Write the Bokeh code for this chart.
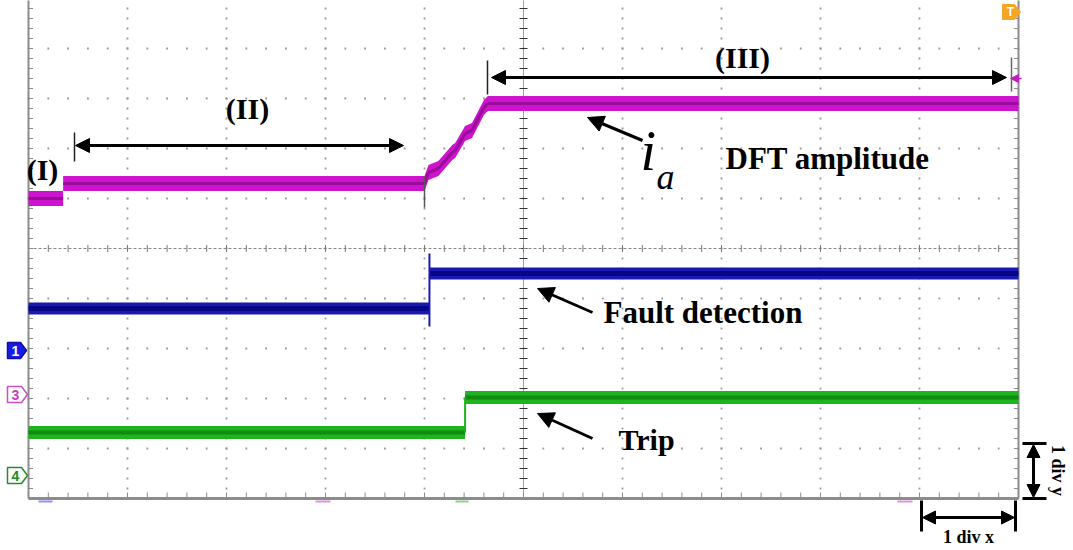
import numpy as np
from bokeh.plotting import figure
from bokeh.models import Range1d, Arrow, NormalHead
from bokeh.core.properties import value
from bokeh.embed import file_html
from bokeh.resources import INLINE

# ---------------- data (oscilloscope divisions, 0 = screen centre) ----------------
# i_a DFT amplitude (channel 3, magenta)
t_ia = [-5.0, -4.65, -4.65, -1.0, -0.96, -0.86, -0.72, -0.69, -0.59, -0.52, -0.40, -0.36, 5.0]
ia = [1.00, 1.00, 1.30, 1.30, 1.52, 1.60, 1.92, 1.96, 2.30, 2.36, 2.82, 2.90, 2.90]
ia_glitch_t = [-1.0, -1.0]
ia_glitch = [1.44, 0.82]
# Fault detection (channel 1, blue)
t_fd = [-5.0, -0.95, -0.95, 5.0]
fd = [-1.20, -1.20, -0.50, -0.50]
fd_glitch_t = [-0.95, -0.95]
fd_glitch = [-0.10, -1.56]
# Trip (channel 4, green)
t_trip = [-5.0, -0.59, -0.59, 5.0]
trip = [-3.68, -3.68, -2.98, -2.98]

region_labels = ["(I)", "(II)", "(III)"]
trace_labels = ["DFT amplitude", "Fault detection", "Trip"]
channel_labels = ["1", "3", "4"]

# ---------------- layout helpers (pixel -> division) ----------------
X0, Y0, SX, SY = 523.0, 248.0, 99.0, 50.0
W, H = 1073, 550


def dx(px):
    return (np.asarray(px, dtype=float) - X0) / SX


def dy(py):
    return (Y0 - np.asarray(py, dtype=float)) / SY


p = figure(width=W, height=H, x_range=Range1d(float(dx(0)), float(dx(W))),
           y_range=Range1d(float(dy(H)), float(dy(0))),
           output_backend="svg", toolbar_location=None, min_border=0,
           x_axis_location=None, y_axis_location=None,
           outline_line_color=None, background_fill_color="white",
           border_fill_color="white")
p.grid.visible = False

# ---------------- graticule ----------------
steps = np.round(np.arange(-5.0, 5.0001, 0.2), 3)
gl = np.array([-4, -3, -2, -1, 1, 2, 3, 4], dtype=float)
# vertical dotted grid lines
p.scatter(np.repeat(gl, len(steps)), np.tile(steps, len(gl)), marker="square",
          size=1.8, color="#989898", line_color=None)
# horizontal dotted grid lines
p.scatter(np.tile(steps, len(gl)), np.repeat(gl, len(steps)), marker="square",
          size=1.8, color="#989898", line_color=None)
# centre cross
p.line([0, 0], [-5, 5.2], line_color="#444444", line_width=1, line_dash="1 1")
p.scatter(np.zeros(len(steps)), steps, marker="dash", size=8, line_color="#333333", line_width=1)
p.line([-5, 5], [0, 0], line_color="#888888", line_width=1, line_dash="3 2")
p.scatter(steps, np.zeros(len(steps)), marker="dash", angle=np.pi / 2, size=7,
          line_color="#777777", line_width=1)
# frame edges with ticks
p.line([-5, -5], [-5, 5.2], line_color="#8c8c8c", line_width=2)
p.scatter(np.full(len(steps), -5 + 2 / SX), steps, marker="dash", size=5, line_color="#8c8c8c")
p.line([5, 5], [-5, 5.2], line_color="#8c8c8c", line_width=2)
p.scatter(np.full(len(steps), 5 - 2 / SX), steps, marker="dash", size=5, line_color="#8c8c8c")
p.line([-5, 5], [-5, -5], line_color="#8c8c8c", line_width=3)
p.scatter(steps, np.full(len(steps), -5 + 3 / SY), marker="dash", angle=np.pi / 2, size=6,
          line_color="#8c8c8c")
# small coloured marks under the bottom edge
for x_a, x_b, c in [(38, 52, "#8f8fff"), (315, 330, "#e58ee5"), (455, 468, "#8fd08f"), (897, 912, "#e58ee5")]:
    p.line(dx([x_a, x_b]), dy([501, 501]), line_color=c, line_width=2)


# ---------------- traces ----------------
def band(t, v, half_px, fill, core, core_w):
    v = np.asarray(v, dtype=float)
    t = np.asarray(t, dtype=float)
    h = half_px / SY
    p.varea(x=t, y1=v - h, y2=v + h, fill_color=fill)
    keep = t[1:] != t[:-1]
    p.segment(x0=t[:-1][keep], y0=v[:-1][keep], x1=t[1:][keep], y1=v[1:][keep],
              line_color=core, line_width=core_w, line_alpha=0.75)


band(t_ia, ia, 7.5, "#cc14cc", "#8a0a8a", 3)
p.line(ia_glitch_t, ia_glitch, line_color="#555555", line_width=1.5)
band(t_fd, fd, 6.0, "#1a1ab0", "#000078", 5)
p.line(fd_glitch_t, fd_glitch, line_color="#1a1ab0", line_width=2)
band(t_trip, trip, 6.5, "#1fb31f", "#0c7f0c", 4)
p.line([t_trip[1], t_trip[2]], [trip[1], trip[2]], line_color="#1fb31f", line_width=2)

# ---------------- channel markers ----------------
def pent(xl, xr, yt, yb):
    ym = (yt + yb) / 2
    xs = [xl, xr - 6, xr, xr - 6, xl]
    ys = [yt, yt, ym, yb, yb]
    return list(dx(xs)), list(dy(ys))


m1 = pent(7, 26, 342, 358)
m3 = pent(7, 27, 386, 402)
m4 = pent(7, 27, 467, 483)
mt = pent(1002, 1020, 4, 19)
p.patch(*m1, fill_color="#1a1ae6", line_color="#1010a0", line_width=1.5)
p.patch(*m3, fill_color="white", line_color="#c850c8", line_width=1.5)
p.patch(*m4, fill_color="white", line_color="#2a8a2a", line_width=1.5)
p.patch(*mt, fill_color="#f5a623", line_color="#f5a623", line_width=1)
mk_font = value("Liberation Sans")
p.text(x=list(dx([15, 15, 15])), y=list(dy([350, 394, 475])), text=channel_labels,
       text_color=["white", "#c040c0", "#228822"], text_font=mk_font, text_font_style="bold",
       text_font_size="14px", text_align="center", text_baseline="middle")
p.text(x=[float(dx(1010))], y=[float(dy(11.5))], text=["T"], text_color="white", text_font=mk_font,
       text_font_style="bold", text_font_size="12px", text_align="center", text_baseline="middle")
p.patch(list(dx([1010, 1018, 1018])), list(dy([78, 74, 82])), fill_color="#c020c0", line_color="#c020c0")
p.line(dx([1016, 1021]), dy([78, 78]), line_color="#c020c0", line_width=1.5)

# ---------------- annotations ----------------
serif = value("Liberation Serif")


def arrow(x1, y1, x2, y2, both=False, size=14, lw=3):
    head = NormalHead(size=size, fill_color="black", line_color="black", line_width=1)
    kw = dict(x_start=float(dx(x1)), y_start=float(dy(y1)), x_end=float(dx(x2)), y_end=float(dy(y2)),
              end=head, line_color="black", line_width=lw)
    if both:
        kw["start"] = NormalHead(size=size, fill_color="black", line_color="black", line_width=1)
    else:
        kw["start"] = None
    p.add_layout(Arrow(**kw))


def bar(x1, y1, x2, y2, lw=1.5, color="#222222"):
    p.line(dx([x1, x2]), dy([y1, y2]), line_color=color, line_width=lw)


# region arrows
bar(74, 132, 74, 161)
arrow(75, 145, 403, 145, both=True)
bar(487, 60, 487, 94)
bar(1011, 57, 1011, 91, color="#666666")
arrow(491, 77, 1006, 77, both=True)
# pointer arrows
arrow(642, 140, 587, 117, size=16)
arrow(592, 312, 537, 288, size=16)
arrow(592, 438, 537, 413, size=16)
# 1 div x / 1 div y
bar(921, 500, 921, 531, lw=3, color="black")
bar(1015, 500, 1015, 531, lw=3, color="black")
arrow(922, 517, 1014, 517, both=True, size=13)
bar(1022, 443, 1046, 443, lw=3, color="black")
bar(1022, 498, 1046, 498, lw=3, color="black")
arrow(1033, 444, 1033, 497, both=True, size=13)

# region labels
p.text(x=list(dx([42, 247, 742])), y=list(dy([169, 108, 57])), text=region_labels,
       text_font=serif, text_font_style="bold", text_font_size="30px", text_color="black",
       text_align="center", text_baseline="middle")
# trace labels
p.text(x=list(dx([725, 603])), y=list(dy([158, 312])), text=trace_labels[:2],
       text_font=serif, text_font_style="bold", text_font_size="31px", text_color="black",
       text_align="left", text_baseline="middle")
p.text(x=[float(dx(618))], y=[float(dy(439))], text=[trace_labels[2]],
       text_font=serif, text_font_style="bold", text_font_size="30px", text_color="black",
       text_align="left", text_baseline="middle")
# i_a
p.text(x=[float(dx(640))], y=[float(dy(150))], text=["i"], text_font=serif, text_font_style="italic",
       text_font_size="56px", text_color="black", text_align="left", text_baseline="middle")
p.text(x=[float(dx(656))], y=[float(dy(176))], text=["a"], text_font=serif, text_font_style="italic",
       text_font_size="36px", text_color="black", text_align="left", text_baseline="middle")
# scale labels
p.text(x=[float(dx(968))], y=[float(dy(536))], text=["1 div x"], text_font=serif, text_font_style="bold",
       text_font_size="18px", text_color="black", text_align="center", text_baseline="middle")
p.text(x=[float(dx(1057))], y=[float(dy(470))], text=["1 div y"], text_font=serif, text_font_style="bold",
       text_font_size="18px", text_color="black", text_align="center", text_baseline="middle",
       angle=-np.pi / 2)

open("out.html", "w").write(file_html(p, INLINE))
